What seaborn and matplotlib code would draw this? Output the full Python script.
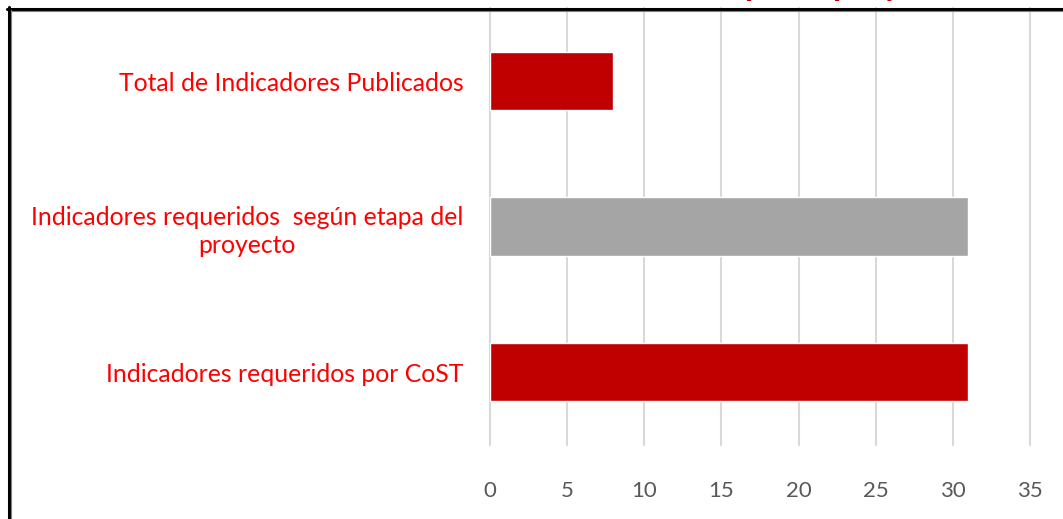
import matplotlib
matplotlib.use("Agg")
import matplotlib.pyplot as plt
from matplotlib.lines import Line2D
import pandas as pd
import seaborn as sns

# datos
categorias = [
    "Total de Indicadores Publicados",
    "Indicadores requeridos  según etapa del\nproyecto",
    "Indicadores requeridos por CoST",
]
valores = [8, 31, 31]
colores = ["#C00000", "#A5A5A5", "#C00000"]
ticks_x = [0, 5, 10, 15, 20, 25, 30, 35]

sns.set_theme(style="white")
plt.rcParams["font.family"] = ["Lato", "DejaVu Sans"]

W, H = 1063, 519
fig = plt.figure(figsize=(W / 100, H / 100), dpi=100)
ax = fig.add_axes([490 / W, (H - 444.75) / H, 540 / W, 436.5 / H])

df = pd.DataFrame({"categoria": categorias, "valor": valores})
sns.barplot(data=df, x="valor", y="categoria", hue="categoria", palette=colores,
            saturation=1, width=0.4, orient="h", legend=False, ax=ax)

ax.set_xlim(0, 35)
ax.set_ylim(2.5, -0.5)
ax.set_xticks(ticks_x)
ax.grid(axis="x", color="#D9D9D9", linewidth=1.5)
ax.grid(axis="y", visible=False)
ax.set_axisbelow(True)
for gl in ax.get_xgridlines():
    gl.set_clip_on(False)
for s in ax.spines.values():
    s.set_visible(False)
ax.tick_params(axis="x", length=0, pad=26, labelsize=16, labelcolor="#595959")
ax.tick_params(axis="y", length=0, pad=19, labelsize=17.8, labelcolor="#FF0000")
for lbl in ax.get_yticklabels():
    lbl.set_multialignment("center")
    lbl.set_linespacing(1.3)
ax.set_xlabel("")
ax.set_ylabel("")

# titulo cortado arriba (solo se ven los trazos inferiores)
fig.text(745 / W, (H + 4) / H, "por", color="#C00000", fontsize=24,
         fontweight="bold", va="baseline", ha="left")
fig.text(833 / W, (H + 4) / H, "proyecto", color="#C00000", fontsize=24,
         fontweight="bold", va="baseline", ha="left")

# marco
fig.add_artist(Line2D([7 / W, 1], [(H - 8.5) / H] * 2, color="black", linewidth=2.2,
                      transform=fig.transFigure))
fig.add_artist(Line2D([10 / W, 1], [(H - 10.5) / H] * 2, color="#808080", linewidth=0.8,
                      transform=fig.transFigure))
fig.add_artist(Line2D([8.5 / W] * 2, [0, (H - 7) / H], color="black", linewidth=2.2,
                      transform=fig.transFigure))
fig.add_artist(Line2D([10.5 / W] * 2, [0, (H - 10) / H], color="#808080", linewidth=0.8,
                      transform=fig.transFigure))

fig.savefig("out.png", dpi=100)
